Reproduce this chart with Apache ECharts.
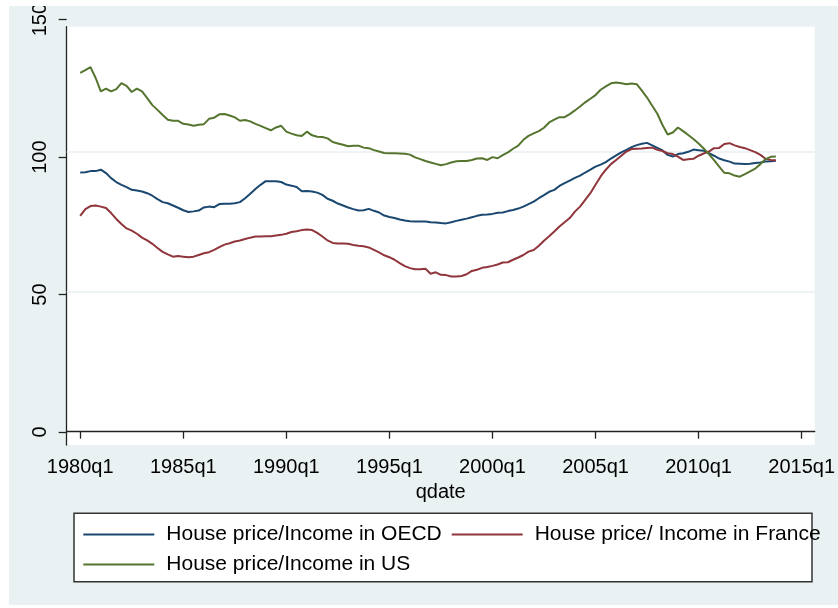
<!DOCTYPE html>
<html>
<head>
<meta charset="utf-8">
<title>House price / Income</title>
<script src="https://cdn.jsdelivr.net/npm/echarts@6/dist/echarts.min.js"></script>
<style>
  html, body { margin: 0; padding: 0; background: #fff; }
  #main { width: 838px; height: 608px; }
</style>
</head>
<body>
<div id="main"></div>
<script>
// quarterly data, first point = 1980q1 (stata %tq value 80)
var startQ = 80;

var oecd = [
  92.7, 92.8, 93.2, 93.2, 93.7, 92.5, 90.7, 89.3, 88.3, 87.5,
  86.5, 86.3, 85.9, 85.3, 84.4, 83.2, 82.1, 81.7, 80.9, 80.1,
  79.2, 78.6, 78.8, 79.1, 80.2, 80.5, 80.3, 81.4, 81.5, 81.5,
  81.7, 82.1, 83.5, 85.1, 86.8, 88.3, 89.6, 89.6, 89.6, 89.3,
  88.4, 88.0, 87.5, 86.0, 86.1, 85.9, 85.5, 84.7, 83.3, 82.6,
  81.6, 80.9, 80.2, 79.6, 79.1, 79.2, 79.7, 79.0, 78.4, 77.3,
  76.8, 76.4, 75.9, 75.5, 75.3, 75.2, 75.2, 75.2, 74.9, 74.8,
  74.6, 74.5, 74.9, 75.4, 75.8, 76.2, 76.7, 77.2, 77.6, 77.7,
  77.9, 78.3, 78.4, 78.9, 79.3, 79.8, 80.5, 81.4, 82.3, 83.5,
  84.6, 85.8, 86.5, 87.9, 88.9, 89.8, 90.8, 91.6, 92.7, 93.7,
  94.8, 95.5, 96.4, 97.7, 98.8, 99.9, 100.8, 101.8, 102.5, 103.0,
  103.3, 102.4, 101.5, 100.6, 99.0, 98.4, 99.3, 99.6, 100.1, 100.9,
  100.7, 100.5, 99.6, 98.7, 97.7, 97.1, 96.6, 95.9, 95.8, 95.7,
  95.8, 96.1, 96.3, 96.6, 96.7, 96.9
];

var france = [
  77.2, 79.6, 80.7, 80.9, 80.5, 80.0, 78.2, 76.1, 74.3, 72.7,
  71.9, 70.8, 69.4, 68.4, 67.2, 65.7, 64.3, 63.4, 62.6, 62.8,
  62.6, 62.4, 62.6, 63.2, 63.8, 64.2, 65.0, 66.0, 66.9, 67.4,
  68.0, 68.4, 68.9, 69.4, 69.8, 69.8, 69.9, 69.9, 70.2, 70.4,
  70.8, 71.4, 71.7, 72.1, 72.3, 72.1, 71.1, 69.8, 68.4, 67.5,
  67.3, 67.3, 67.2, 66.8, 66.5, 66.3, 65.9, 65.0, 64.1, 63.1,
  62.4, 61.5, 60.3, 59.2, 58.5, 58.1, 58.1, 58.3, 56.5, 57.0,
  56.1, 56.0, 55.5, 55.5, 55.7, 56.3, 57.5, 57.9, 58.6, 58.9,
  59.3, 59.8, 60.5, 60.6, 61.5, 62.3, 63.2, 64.4, 65.0, 66.5,
  68.3, 69.9, 71.6, 73.4, 74.9, 76.4, 78.7, 80.5, 82.9, 85.3,
  88.3, 91.3, 93.7, 95.7, 97.2, 98.7, 100.2, 101.1, 101.2, 101.3,
  101.5, 101.6, 100.8, 100.4, 99.6, 99.3, 98.4, 97.2, 97.4, 97.6,
  98.7, 99.5, 100.2, 101.4, 101.5, 102.9, 103.2, 102.4, 101.8, 101.4,
  100.7, 100.0, 99.0, 97.6, 97.2, 97.1
];

var us = [
  128.3, 129.3, 130.4, 126.5, 121.7, 122.7, 121.7, 122.5, 124.7, 123.7,
  121.5, 122.7, 121.7, 119.3, 116.8, 115.1, 113.3, 111.6, 111.2, 111.2,
  110.1, 109.9, 109.4, 109.8, 110.0, 111.9, 112.3, 113.5, 113.6, 113.1,
  112.4, 111.2, 111.5, 111.0, 110.1, 109.4, 108.6, 107.8, 108.8, 109.4,
  107.3, 106.6, 106.0, 105.8, 107.3, 106.0, 105.5, 105.4, 104.9, 103.6,
  103.1, 102.6, 102.1, 102.3, 102.3, 101.6, 101.4, 100.7, 100.2, 99.7,
  99.6, 99.6, 99.5, 99.4, 99.1, 98.1, 97.5, 96.8, 96.3, 95.8,
  95.3, 95.7, 96.3, 96.7, 96.8, 96.8, 97.2, 97.7, 97.8, 97.2,
  98.2, 97.8, 98.9, 99.9, 101.2, 102.3, 104.4, 105.8, 106.7, 107.5,
  108.7, 110.6, 111.6, 112.5, 112.5, 113.6, 114.9, 116.3, 117.8, 119.1,
  120.4, 122.3, 123.5, 124.6, 124.9, 124.6, 124.3, 124.5, 124.3, 122.0,
  119.5, 116.6, 113.7, 109.7, 106.3, 107.0, 108.8, 107.5, 106.1, 104.7,
  103.1, 101.3, 99.3, 97.1, 94.8, 92.6, 92.4, 91.6, 91.2, 92.1,
  93.1, 94.1, 95.7, 97.5, 98.3, 98.4
];

var names = ['House price/Income in OECD', 'House price/ Income in France', 'House price/Income in US'];
var colors = ['#1a476f', '#90353b', '#55752f'];

var xTicks = [80, 100, 120, 140, 160, 180, 200, 220];   // 1980q1 ... 2015q1
var yTicks = [0, 50, 100, 150];
var gridVals = [50, 100];

var xMin = 77.38, xMax = 222.54;
var yMin = -4.76, yMaxPlot = 144.85, yMaxAxis = 150;

var font = '"Liberation Sans", Arial, Helvetica, sans-serif';

function qlabel(v) {
  return (1960 + Math.floor(v / 4)) + 'q' + (v % 4 + 1);
}

function toPairs(arr) {
  var out = [];
  for (var i = 0; i < arr.length; i++) {
    out.push([startQ + i, arr[i]]);
  }
  return out;
}

var myChart = echarts.init(document.getElementById('main'));

var series = [oecd, france, us].map(function (d, i) {
  var s = {
    name: names[i],
    type: 'line',
    xAxisIndex: 0,
    yAxisIndex: 0,
    data: toPairs(d),
    showSymbol: false,
    symbol: 'none',
    silent: true,
    z: 3,
    lineStyle: { color: colors[i], width: 2 },
    itemStyle: { color: colors[i] }
  };
  if (i === 0) {
    // light gridlines under the lines
    s.markLine = {
      silent: true,
      symbol: 'none',
      z: 1,
      label: { show: false },
      lineStyle: { color: '#e8eff2', width: 1.5, type: 'solid' },
      data: gridVals.map(function (g) { return { yAxis: g }; })
    };
  }
  return s;
});

function legendFor(i, left, top) {
  return {
    data: [names[i]],
    left: left,
    top: top,
    padding: 0,
    itemWidth: 71,
    itemHeight: 2,
    icon: 'rect',
    selectedMode: false,
    textStyle: { fontFamily: font, fontSize: 21, color: '#000', padding: [0, 0, 0, 7] }
  };
}

var option = {
  backgroundColor: '#eaf1f3',
  animation: false,
  grid: [
    { left: 66.7, right: 18.5, top: 26.7, bottom: 163, show: true, backgroundColor: '#fff', borderWidth: 0 },
    { left: 66.7, right: 18.5, top: 12.6, bottom: 163, show: false }
  ],
  xAxis: [
    {
      type: 'value', gridIndex: 0, min: xMin, max: xMax,
      name: 'qdate', nameLocation: 'middle', nameGap: 37,
      nameTextStyle: { fontFamily: font, fontSize: 20, color: '#000' },
      axisLine: { show: true, lineStyle: { color: '#222', width: 1.3 } },
      axisTick: { show: true, inside: false, length: 7, customValues: xTicks, lineStyle: { color: '#222', width: 1.3 } },
      axisLabel: { show: true, customValues: xTicks, margin: 12, formatter: qlabel, fontFamily: font, fontSize: 20, color: '#000' },
      splitLine: { show: false }
    },
    {
      type: 'value', gridIndex: 1, min: xMin, max: xMax, show: false
    }
  ],
  yAxis: [
    {
      type: 'value', gridIndex: 0, min: yMin, max: yMaxPlot,
      axisLine: { show: true, lineStyle: { color: '#222', width: 1.3 } },
      axisTick: { show: false },
      axisLabel: { show: false },
      splitLine: { show: false }
    },
    {
      type: 'value', gridIndex: 1, min: yMin, max: yMaxAxis,
      axisLine: { show: false },
      axisTick: { show: true, inside: false, length: 8, customValues: yTicks, lineStyle: { color: '#222', width: 1.3 } },
      axisLabel: { show: true, customValues: yTicks, rotate: 90, margin: 16, fontFamily: font, fontSize: 20, color: '#000' },
      splitLine: { show: false }
    }
  ],
  legend: [
    legendFor(0, 83.3, 524),
    legendFor(1, 451.7, 524),
    legendFor(2, 83.3, 554)
  ],
  graphic: [
    // legend frame
    { type: 'rect', z: 1, shape: { x: 74, y: 513.3, width: 738, height: 68.4 },
      style: { fill: '#fff', stroke: '#333', lineWidth: 1.5 } },
    // white margins around the graph region
    { type: 'rect', z: 100, shape: { x: 0, y: 0, width: 838, height: 6 }, style: { fill: '#fff' } },
    { type: 'rect', z: 100, shape: { x: 0, y: 0, width: 9, height: 608 }, style: { fill: '#fff' } },
    { type: 'rect', z: 100, shape: { x: 0, y: 605, width: 838, height: 3 }, style: { fill: '#fff' } }
  ],
  series: series
};

myChart.setOption(option);
</script>
</body>
</html>
